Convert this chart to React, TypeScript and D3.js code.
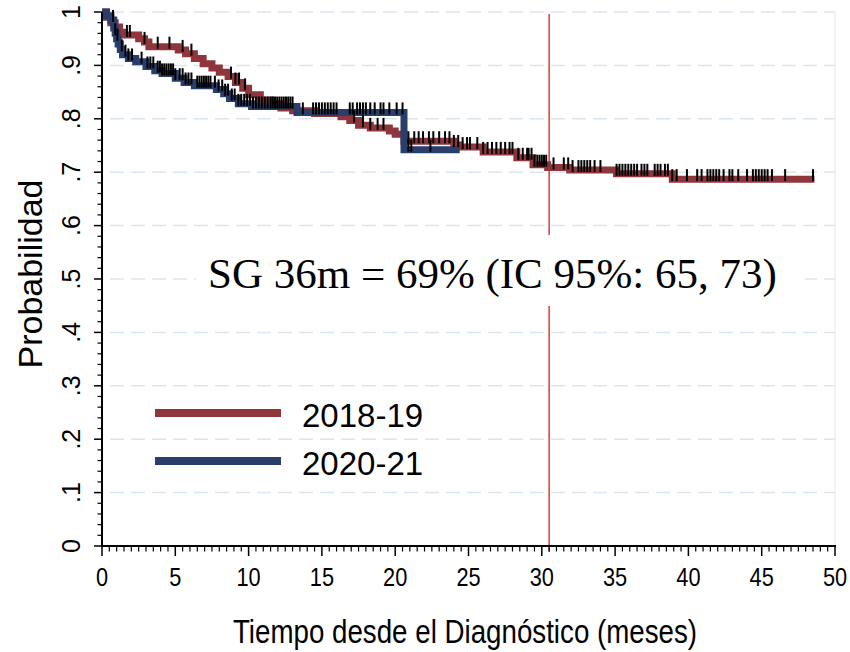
import React from "react";
import * as d3 from "d3";

// Kaplan-Meier step points [time (months), survival]
const redTimes = [0, 0.3, 0.6, 0.9, 1.2, 1.5, 2.5, 2.9, 3.2, 5.2, 5.7, 6.3, 6.9, 7.5, 8.0, 8.6, 9.1, 9.6, 10.0, 10.8, 11.5, 12.2, 13.0, 14.5, 16.3, 16.9, 17.5, 18.3, 19.6, 20.0, 20.6, 24.0, 24.4, 26.0, 28.3, 29.4, 30.4, 31.9, 35.1, 38.9];
const redSurv = [1.0, 0.99, 0.98, 0.972, 0.962, 0.957, 0.95, 0.944, 0.935, 0.929, 0.922, 0.913, 0.903, 0.895, 0.887, 0.879, 0.868, 0.857, 0.845, 0.835, 0.828, 0.82, 0.815, 0.81, 0.804, 0.797, 0.788, 0.783, 0.777, 0.771, 0.758, 0.751, 0.747, 0.738, 0.727, 0.714, 0.709, 0.704, 0.697, 0.687];
const redEnd = 48.6;

const blueTimes = [0, 0.3, 0.6, 0.8, 0.9, 1.0, 1.1, 1.25, 1.4, 1.8, 2.3, 3.0, 3.6, 4.1, 5.0, 5.6, 6.3, 7.8, 8.3, 8.7, 9.3, 10.2, 13.3, 20.6];
const blueSurv = [1.0, 0.993, 0.985, 0.97, 0.96, 0.95, 0.94, 0.93, 0.92, 0.913, 0.907, 0.898, 0.89, 0.885, 0.876, 0.868, 0.862, 0.855, 0.847, 0.838, 0.828, 0.823, 0.812, 0.742];
const blueEnd = 24.4;

// censoring marks (months)
const redCensored = [1.7, 1.9, 2.9, 3.8, 4.6, 5.5, 6.1, 8.8, 9.1, 9.35, 9.75, 17.2, 17.8, 18.3, 18.8, 19.2, 20.9, 21.3, 21.6, 21.9, 22.3, 22.6, 23.0, 23.4, 23.7, 24.0, 24.3, 24.6, 24.9, 25.1, 25.6, 26.0, 26.3, 26.6, 26.9, 27.2, 27.5, 27.8, 28.0, 28.4, 28.7, 29.0, 29.1, 29.3, 29.5, 29.7, 29.85, 30.0, 30.15, 30.3, 30.8, 31.5, 31.8, 32.1, 32.5, 32.7, 32.9, 33.1, 33.3, 33.6, 34.0, 35.1, 35.3, 35.5, 35.7, 35.9, 36.1, 36.3, 36.5, 36.8, 37.0, 37.2, 37.7, 37.9, 38.1, 38.4, 38.6, 38.9, 39.2, 39.9, 40.6, 40.9, 41.3, 41.5, 41.7, 41.9, 42.1, 42.4, 42.8, 43.0, 43.4, 44.0, 44.4, 44.6, 44.8, 45.0, 45.2, 45.4, 45.7, 46.6, 48.5];
const blueCensored = [0.75, 0.9, 1.05, 1.35, 1.6, 1.8, 2.05, 2.7, 3.1, 3.3, 3.5, 3.8, 3.95, 4.1, 4.25, 4.4, 4.55, 4.7, 4.85, 5.0, 5.3, 5.5, 5.7, 5.9, 6.1, 6.5, 6.65, 6.8, 6.95, 7.1, 7.25, 7.4, 7.7, 7.95, 8.2, 8.4, 8.6, 8.85, 9.05, 9.3, 9.5, 9.7, 9.9, 10.1, 10.3, 10.5, 10.7, 10.9, 11.1, 11.3, 11.5, 11.65, 11.8, 11.95, 12.1, 12.25, 12.4, 12.55, 12.7, 12.85, 13.0, 13.7, 14.4, 14.6, 14.8, 15.0, 15.2, 15.4, 15.6, 15.8, 16.0, 16.9, 17.1, 17.4, 17.6, 17.8, 18.0, 18.3, 18.6, 19.0, 19.2, 19.6, 20.1, 20.5, 20.9, 21.1, 22.4];

const xTicks = [0, 5, 10, 15, 20, 25, 30, 35, 40, 45, 50];
const yTicks = [0, 0.1, 0.2, 0.3, 0.4, 0.5, 0.6, 0.7, 0.8, 0.9, 1];
const yTickLabels = ["0", ".1", ".2", ".3", ".4", ".5", ".6", ".7", ".8", ".9", "1"];
const seriesNames = ["2018-19", "2020-21"];
const refLineTime = 30.5;
const annotation = "SG 36m = 69% (IC 95%: 65, 73)";
const xTitle = "Tiempo desde el Diagnóstico (meses)";
const yTitle = "Probabilidad";

const RED = "#8f363d";
const BLUE = "#2a3e6c";
const GRID = "#dbe5ee";

export default function App() {
  const x = d3.scaleLinear().domain([0, 50]).range([102, 835]);
  const y = d3.scaleLinear().domain([0, 1]).range([546, 12]);

  const stepPts = (times: number[], surv: number[], end: number) => {
    const pts: [number, number][] = times.map((t, i) => [t, surv[i]]);
    pts.push([end, surv[surv.length - 1]]);
    return pts;
  };
  const line = d3
    .line<[number, number]>()
    .x((d) => x(d[0]))
    .y((d) => y(d[1]))
    .curve(d3.curveStepAfter);

  const survAt = (times: number[], surv: number[], t: number) => {
    const i = d3.bisectRight(times, t) - 1;
    return surv[Math.max(0, i)];
  };

  const minorX = d3.range(0, 100).map((i) => i * 0.5).filter((v) => v % 5 !== 0);
  const minorY = d3.range(0, 50).map((i) => i * 0.02).filter((v, i) => i % 5 !== 0);

  const series = [
    { times: redTimes, surv: redSurv, end: redEnd, cens: redCensored, color: RED },
    { times: blueTimes, surv: blueSurv, end: blueEnd, cens: blueCensored, color: BLUE },
  ];

  return (
    <svg
      width={850}
      height={652}
      style={{ position: "absolute", left: 0, top: 0, background: "#fff" }}
      fontFamily="Liberation Sans, Arial, sans-serif"
    >
      <rect x={0} y={0} width={850} height={652} fill="#fff" />
      {/* grid */}
      {yTicks.slice(1).map((v) => (
        <line key={"g" + v} x1={x(0)} x2={x(50)} y1={y(v)} y2={y(v)} stroke={GRID} strokeWidth={1.5} strokeDasharray="14,7" strokeDashoffset={-8} />
      ))}
      <line x1={x(50)} x2={x(50)} y1={y(1)} y2={y(0)} stroke="#e6edf2" strokeWidth={1.2} />

      {/* reference line */}
      <line x1={x(refLineTime)} x2={x(refLineTime)} y1={y(1) + 2} y2={y(0) + 6} stroke="#e31a1c" strokeWidth={1.3} />

      {/* curves */}
      {series.map((s, i) => (
        <path key={"c" + i} d={line(stepPts(s.times, s.surv, s.end)) || ""} fill="none" stroke={s.color} strokeWidth={7} strokeLinejoin="miter" />
      ))}
      {/* censor ticks */}
      {series.map((s, i) => (
        <g key={"t" + i}>
          {s.cens.map((t, j) => {
            const yy = y(survAt(s.times, s.surv, t));
            return <line key={j} x1={x(t)} x2={x(t)} y1={yy + 2} y2={yy - 10} stroke="#000" strokeWidth={2} />;
          })}
        </g>
      ))}

      {/* annotation box */}
      <rect x={196} y={235} width={609} height={71} fill="#fff" />
      <text x={208} y={288} fontFamily="Liberation Serif, Times New Roman, serif" fontSize={43} fill="#000">
        {annotation}
      </text>

      {/* axes */}
      <line x1={x(0)} x2={x(0)} y1={y(0) + 1} y2={y(1)} stroke="#000" strokeWidth={2} />
      <line x1={x(0) - 1} x2={x(50) + 1} y1={y(0)} y2={y(0)} stroke="#000" strokeWidth={2} />
      {yTicks.map((v) => (
        <line key={"yt" + v} x1={x(0) - 8} x2={x(0)} y1={y(v)} y2={y(v)} stroke="#000" strokeWidth={1.5} />
      ))}
      {minorY.map((v) => (
        <line key={"ym" + v} x1={x(0) - 4.5} x2={x(0)} y1={y(v)} y2={y(v)} stroke="#000" strokeWidth={1.2} />
      ))}
      {xTicks.map((v) => (
        <line key={"xt" + v} x1={x(v)} x2={x(v)} y1={y(0)} y2={y(0) + 10} stroke="#000" strokeWidth={1.5} />
      ))}
      {minorX.map((v) => (
        <line key={"xm" + v} x1={x(v)} x2={x(v)} y1={y(0)} y2={y(0) + 5.5} stroke="#000" strokeWidth={1.2} />
      ))}
      {xTicks.map((v) => (
        <text key={"xl" + v} transform={`translate(${x(v)},586) scale(0.87,1)`} textAnchor="middle" fontSize={25} fill="#000">
          {v}
        </text>
      ))}
      {yTicks.map((v, i) => (
        <text key={"yl" + v} transform={`translate(80,${y(v)}) rotate(-90)`} textAnchor="middle" fontSize={25} fill="#000">
          {yTickLabels[i]}
        </text>
      ))}
      <text transform={`translate(465,643) scale(0.84,1)`} textAnchor="middle" fontSize={33} fill="#000">
        {xTitle}
      </text>
      <text transform={`translate(42,274) rotate(-90)`} textAnchor="middle" fontSize={34} fill="#000">
        {yTitle}
      </text>

      {/* legend */}
      {series.map((s, i) => (
        <g key={"lg" + i}>
          <line x1={155} x2={281} y1={413 + i * 48} y2={413 + i * 48} stroke={s.color} strokeWidth={8} />
          <text x={302} y={427 + i * 48} fontSize={33} fill="#000">
            {seriesNames[i]}
          </text>
        </g>
      ))}
    </svg>
  );
}
